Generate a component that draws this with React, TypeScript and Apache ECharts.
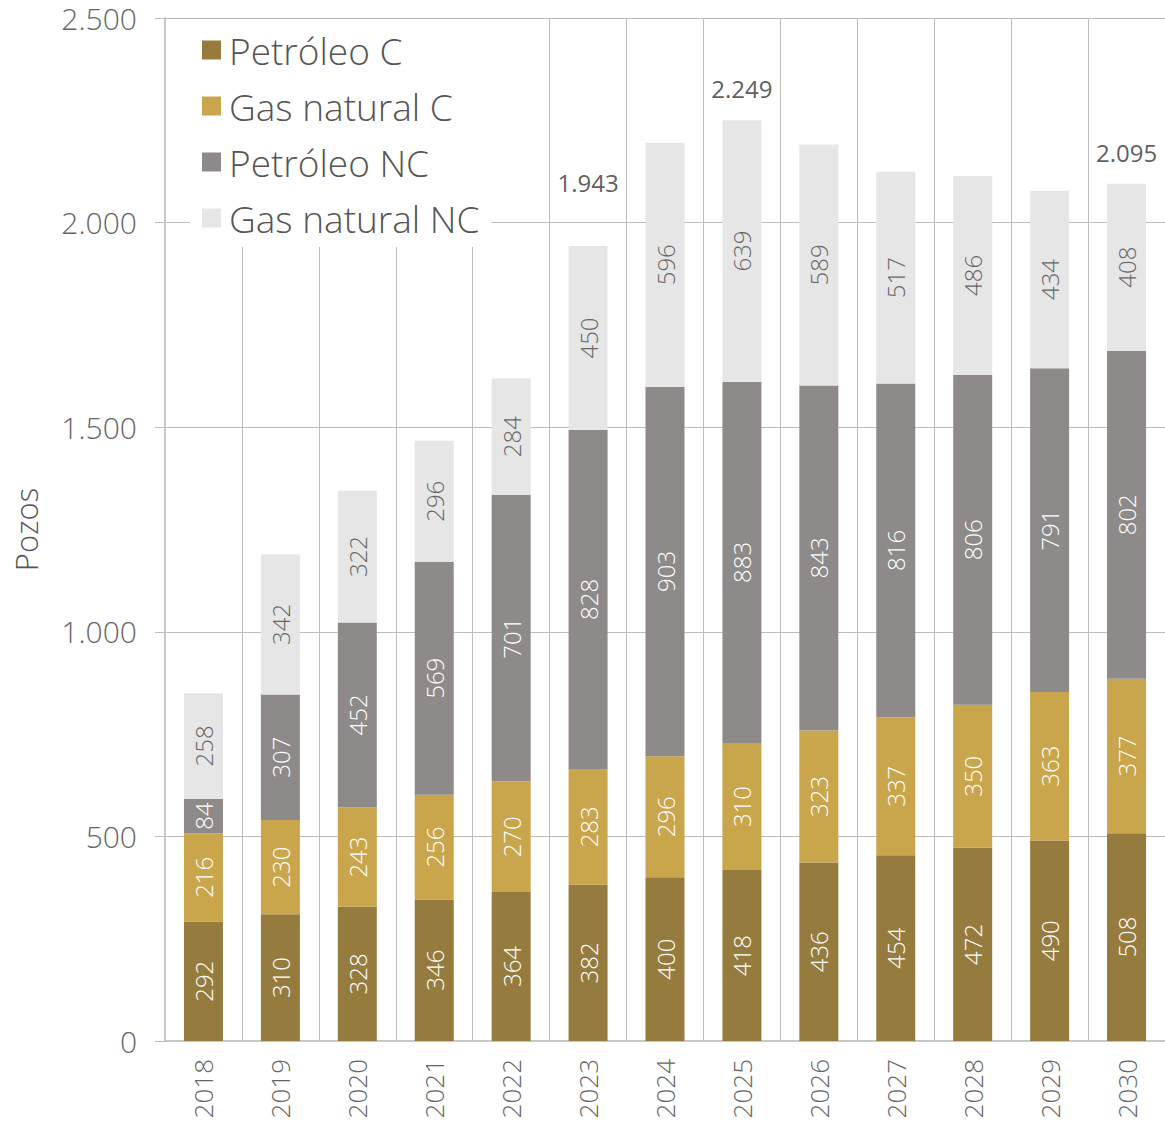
import React, { useEffect, useRef } from "react";
import * as echarts from "echarts";

const years = ["2018", "2019", "2020", "2021", "2022", "2023", "2024", "2025", "2026", "2027", "2028", "2029", "2030"];
const petroleoC = [292, 310, 328, 346, 364, 382, 400, 418, 436, 454, 472, 490, 508];
const gasC = [216, 230, 243, 256, 270, 283, 296, 310, 323, 337, 350, 363, 377];
const petroleoNC = [84, 307, 452, 569, 701, 828, 903, 883, 843, 816, 806, 791, 802];
const gasNC = [258, 342, 322, 296, 284, 450, 596, 639, 589, 517, 486, 434, 408];
const totalLabels = ["", "", "", "", "", "1.943", "", "2.249", "", "", "", "", "2.095"];
const yTicks = [0, 500, 1000, 1500, 2000, 2500];

const FONT = "Open Sans";

export default function App() {
  const ref = useRef<HTMLDivElement>(null);
  useEffect(() => {
    document.body.style.margin = "0";
    const chart = echarts.init(ref.current!, null, { renderer: "svg" });
    const labelOffsets: Record<number, number> = { 5: -63, 7: -32, 12: -31 };
    const mkBar = (name: string, data: number[], color: string, labelColor: string) => ({
      name,
      type: "bar",
      stack: "total",
      barWidth: 39,
      data,
      itemStyle: { color },
      label: {
        show: true,
        position: "inside",
        rotate: 90,
        color: labelColor,
        fontFamily: FONT,
        fontWeight: 300,
        fontSize: 24,
        formatter: (p: any) => String(p.value),
      },
    });
    const totals = years.map((_, i) => petroleoC[i] + gasC[i] + petroleoNC[i] + gasNC[i]);
    chart.setOption({
      animation: false,
      textStyle: { fontFamily: FONT },
      grid: { left: 165, right: 0, top: 18, bottom: 90 },
      legend: {
        data: ["Petróleo C", "Gas natural C", "Petróleo NC", "Gas natural NC"],
        orient: "vertical",
        left: 190,
        top: 19,
        padding: [12, 12, 10, 12],
        backgroundColor: "#ffffff",
        itemWidth: 19,
        itemHeight: 19,
        itemGap: 18,
        icon: "rect",
        z: 5,
        textStyle: {
          fontSize: 37,
          lineHeight: 38,
          color: "#555",
          fontFamily: FONT,
          fontWeight: 300,
          padding: [0, 0, 0, 3],
        },
      },
      xAxis: {
        type: "category",
        data: years,
        axisLine: { show: true, lineStyle: { color: "#c8c8c8", width: 2 } },
        axisTick: { show: false },
        splitLine: { show: true, lineStyle: { color: "#bdbdbd", width: 1 } },
        axisLabel: { rotate: 90, margin: 18, fontSize: 26, color: "#666", fontFamily: FONT, fontWeight: 300 },
      },
      yAxis: {
        type: "value",
        min: 0,
        max: 2500,
        interval: 500,
        name: "Pozos",
        nameLocation: "middle",
        nameGap: 124,
        nameTextStyle: { fontSize: 31, color: "#555", fontFamily: FONT, fontWeight: 300 },
        axisLine: { show: true, lineStyle: { color: "#c8c8c8", width: 2 } },
        axisTick: { show: true, length: 10, lineStyle: { color: "#bdbdbd" } },
        splitLine: { show: true, lineStyle: { color: "#bdbdbd", width: 1 } },
        axisLabel: {
          margin: 28,
          fontSize: 30,
          lineHeight: 30,
          color: "#666",
          fontFamily: FONT,
          fontWeight: 300,
          formatter: (v: number) => (yTicks.includes(v) ? v.toLocaleString("de-DE") : ""),
        },
      },
      series: [
        mkBar("Petróleo C", petroleoC, "#957c3e", "#ffffff"),
        mkBar("Gas natural C", gasC, "#c9a54b", "#ffffff"),
        mkBar("Petróleo NC", petroleoNC, "#8e8a89", "#ffffff"),
        mkBar("Gas natural NC", gasNC, "#e6e6e6", "#666666"),
        {
          name: "Total",
          type: "scatter",
          symbolSize: 0,
          silent: true,
          data: totals.map((t, i) =>
            totalLabels[i]
              ? {
                  value: t,
                  label: {
                    show: true,
                    position: "inside",
                    offset: [0, labelOffsets[i] ?? -32],
                    formatter: totalLabels[i],
                    fontSize: 24,
                    color: "#333",
                    fontFamily: FONT,
                    fontWeight: 400,
                  },
                }
              : { value: "-" }
          ),
        },
      ],
    });
    return () => chart.dispose();
  }, []);
  return <div ref={ref} style={{ width: 1165, height: 1131, position: "absolute", left: 0, top: 0 }} />;
}
